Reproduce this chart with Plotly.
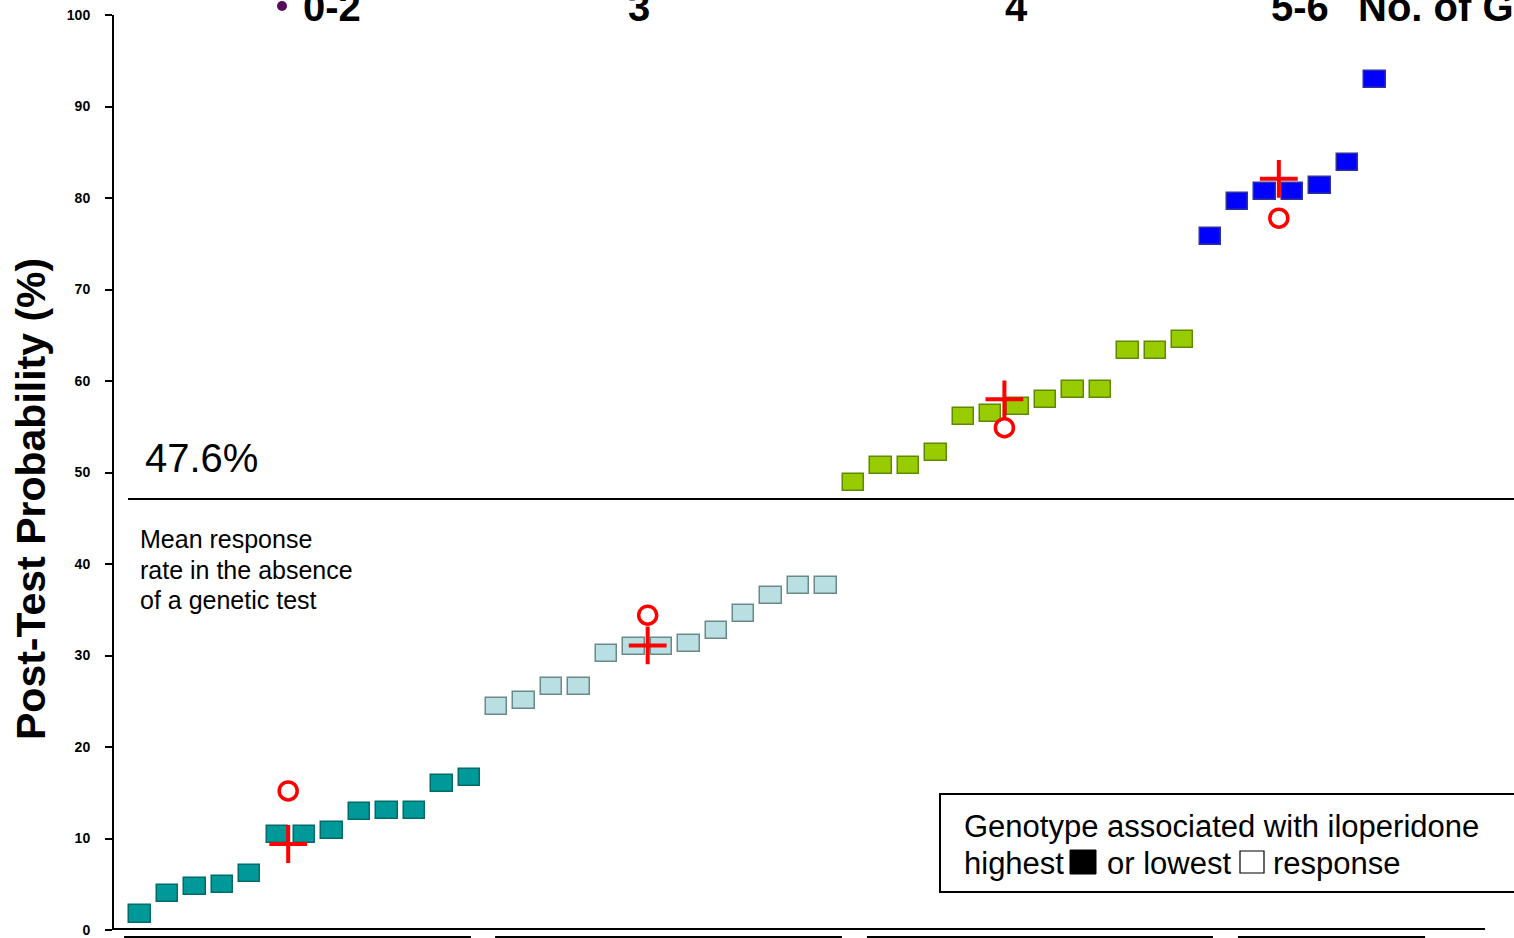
import plotly.graph_objects as go

# ---------------- data ----------------
group_labels = ["0-2", "3", "4", "5-6"]
axis_caption = "No. of Genes"

teal_x = list(range(0, 13))
teal_y = [1.75, 4.0, 4.8, 5.0, 6.2, 10.4, 10.4, 10.9, 12.9, 13.1, 13.1, 16.0, 16.7]

lblue_x = list(range(13, 26))
lblue_y = [24.4, 25.1, 26.6, 26.6, 30.2, 31.0, 31.0, 31.3, 32.7, 34.6, 36.6, 37.7, 37.7]

green_x = list(range(26, 39))
green_y = [48.9, 50.8, 50.8, 52.2, 56.1, 56.4, 57.2, 58.0, 59.1, 59.1, 63.3, 63.3, 64.5]

blue_x = list(range(39, 46))
blue_y = [75.8, 79.6, 80.7, 80.7, 81.4, 83.9, 92.9]

# red summary markers (one per gene-count group)
red_x = [5.4, 18.5, 31.5, 41.5]
circle_y = [15.2, 34.4, 54.9, 77.8]
cross_y = [9.4, 31.1, 58.0, 82.1]

mean_rate_line = 47.1          # drawn position of the reference line
mean_rate_label = "47.6%"
mean_rate_note = ["Mean response", "rate in the absence", "of a genetic test"]

y_ticks = [0, 10, 20, 30, 40, 50, 60, 70, 80, 90, 100]

# group label positions (in x index units) and bottom bracket segments
group_label_x = [7.0, 18.2, 31.95, 42.27]
caption_x = 44.3
segments = [(-0.58, 12.06), (12.94, 25.58), (26.49, 39.10), (40.01, 46.83)]

# ---------------- style ----------------
FONT = "Liberation Sans, Arial, Helvetica, sans-serif"
BOX_W = 0.78      # width of a marker box in x units
BOX_H = 1.86      # height of a marker box in y units

W, H = 1514, 938
ML, MR, MT, MB = 114, 0, 15, 8
PW, PH = W - ML - MR, H - MT - MB


def px(xp):
    return (xp - ML) / PW


def py(yp):
    return (H - MB - yp) / PH


fig = go.Figure()


def box_trace(xs, ys, fill, edge):
    fig.add_trace(go.Bar(
        x=xs, y=[BOX_H] * len(ys), base=[v - BOX_H / 2 for v in ys],
        width=BOX_W, marker=dict(color=fill, line=dict(color=edge, width=1.5)),
        showlegend=False, hoverinfo="skip"))


box_trace(teal_x, teal_y, "#009999", "#006B6B")
box_trace(lblue_x, lblue_y, "#BADFE2", "#6A8A8A")
box_trace(green_x, green_y, "#99CC00", "#5E8A00")
box_trace(blue_x, blue_y, "#0000FF", "#3030A0")

fig.add_trace(go.Scatter(
    x=red_x, y=circle_y, mode="markers",
    marker=dict(symbol="circle-open", size=18, color="#FF0000",
                line=dict(color="#FF0000", width=3.5)),
    showlegend=False, hoverinfo="skip"))
fig.add_trace(go.Scatter(
    x=red_x, y=cross_y, mode="markers",
    marker=dict(symbol="cross-thin", size=27, color="#FF0000",
                line=dict(color="#FF0000", width=4)),
    showlegend=False, hoverinfo="skip"))

shapes = []
# mean response line
shapes.append(dict(type="line", xref="paper", yref="y", x0=px(128), x1=1.0,
                   y0=mean_rate_line, y1=mean_rate_line,
                   line=dict(color="black", width=2)))
# x axis baseline
shapes.append(dict(type="line", xref="paper", yref="paper", x0=0, x1=px(1485),
                   y0=py(929), y1=py(929), line=dict(color="black", width=2)))
# bottom bracket segments
for a, b in segments:
    shapes.append(dict(type="line", xref="x", yref="paper", x0=a, x1=b,
                       y0=py(937), y1=py(937), line=dict(color="black", width=2)))
# legend box
shapes.append(dict(type="rect", xref="paper", yref="paper", x0=px(940), x1=px(1530),
                   y0=py(892), y1=py(794), line=dict(color="black", width=2),
                   fillcolor="rgba(0,0,0,0)"))
# legend squares
shapes.append(dict(type="rect", xref="paper", yref="paper", x0=px(1070), x1=px(1096),
                   y0=py(874), y1=py(850), line=dict(color="black", width=1),
                   fillcolor="black"))
shapes.append(dict(type="rect", xref="paper", yref="paper", x0=px(1240), x1=px(1264),
                   y0=py(873), y1=py(851), line=dict(color="black", width=1.2),
                   fillcolor="white"))
# purple bullet
shapes.append(dict(type="circle", xref="paper", yref="paper",
                   x0=px(277), x1=px(287), y0=py(11), y1=py(1),
                   line=dict(color="#5A0A5A", width=0), fillcolor="#5A0A5A"))

annotations = []
for lbl, gx in zip(group_labels, group_label_x):
    annotations.append(dict(text=lbl, xref="x", yref="paper", x=gx, y=py(31),
                            xanchor="center", yanchor="bottom", showarrow=False,
                            font=dict(family=FONT, size=40, color="black", weight="bold")))
annotations.append(dict(text=axis_caption, xref="x", yref="paper", x=caption_x, y=py(31),
                        xanchor="left", yanchor="bottom", showarrow=False,
                        font=dict(family=FONT, size=40, color="black", weight="bold")))
annotations.append(dict(text=mean_rate_label, xref="paper", yref="paper", x=px(143), y=py(482),
                        xanchor="left", yanchor="bottom", showarrow=False,
                        font=dict(family=FONT, size=40, color="black")))
for line_txt, yc in zip(mean_rate_note, [539, 569.5, 600]):
    annotations.append(dict(text=line_txt, xref="paper", yref="paper", x=px(138), y=py(yc),
                            xanchor="left", yanchor="middle", align="left", showarrow=False,
                            font=dict(family=FONT, size=25, color="black")))
annotations.append(dict(text="Post-Test Probability (%)", xref="paper", yref="paper",
                        x=px(31), y=py(499), xanchor="center", yanchor="middle",
                        textangle=-90, showarrow=False,
                        font=dict(family=FONT, size=41, color="black", weight="bold")))
# legend texts
leg_font = dict(family=FONT, size=31, color="black")
annotations.append(dict(text="Genotype associated with iloperidone", xref="paper", yref="paper",
                        x=px(962), y=py(826), xanchor="left", yanchor="middle",
                        showarrow=False, font=leg_font))
for t, xl in [("highest", 962), ("or lowest", 1105), ("response", 1271)]:
    annotations.append(dict(text=t, xref="paper", yref="paper", x=px(xl), y=py(863),
                            xanchor="left", yanchor="middle", showarrow=False, font=leg_font))

fig.update_layout(
    width=W, height=H,
    margin=dict(l=ML, r=MR, t=MT, b=MB),
    plot_bgcolor="white", paper_bgcolor="white",
    barmode="overlay", bargap=0,
    shapes=shapes, annotations=annotations,
    xaxis=dict(range=[-0.9475, 50.07], visible=False, fixedrange=True),
    yaxis=dict(range=[0, 100], tickvals=y_ticks, ticktext=[str(v) for v in y_ticks],
               ticks="outside", ticklen=7, tickwidth=2, tickcolor="black",
               showline=True, linewidth=2, linecolor="black",
               showgrid=False, zeroline=False, ticklabelstandoff=12,
               tickfont=dict(family=FONT, size=14, color="black", weight="bold")),
)

fig.write_html("out.html", config={"displayModeBar": False},
               post_script="document.body.style.margin='0';document.body.style.overflow='hidden';")
